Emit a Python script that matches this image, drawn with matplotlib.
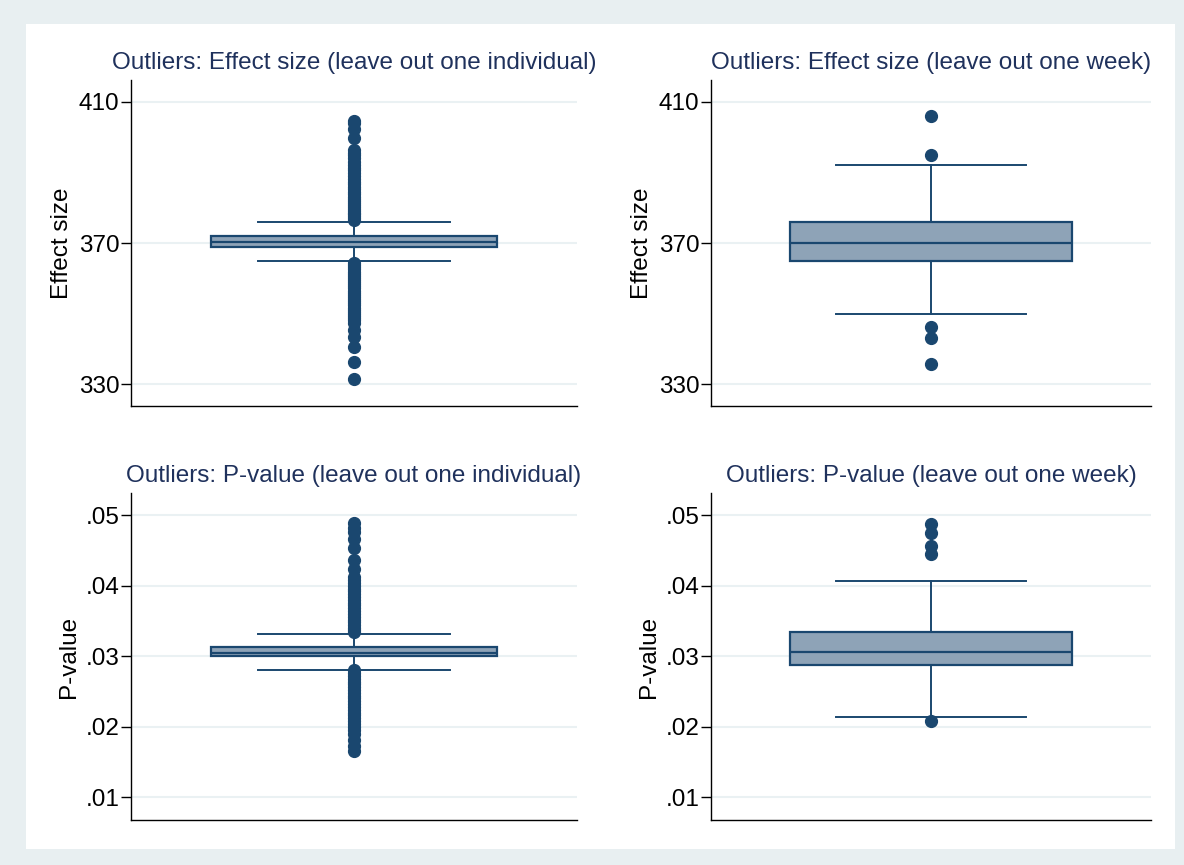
import matplotlib.pyplot as plt
import matplotlib.patches as mpatches

plt.rcParams['font.family'] = ['Liberation Sans', 'DejaVu Sans']

NAVY = '#1a476f'
BOX_FILL = '#8ea3b7'
GRID = '#eaf1f3'
BG = '#e8eff1'
TITLE_COL = '#1f315c'

# ---- effect size, leave out one individual ----
es_ind_q1, es_ind_med, es_ind_q3 = 368.95, 370.4, 372.0
es_ind_whislo, es_ind_whishi = 364.9, 376.0
es_ind_out = [404.6, 403.9, 402.3, 399.8, 396.4, 395.6, 395.0, 394.2, 393.0,
              392.2, 391.4, 390.6, 389.8, 389.0, 388.2, 387.4, 386.6, 385.9,
              385.2, 384.5, 383.8, 383.1, 382.5, 381.9, 381.3, 380.7, 380.1,
              379.6, 379.1, 378.6, 378.1, 377.6, 377.1, 376.6,
              364.3, 363.7, 363.1, 362.5, 361.9, 361.3, 360.7, 360.1, 359.5,
              358.9, 358.3, 357.7, 357.1, 356.5, 355.9, 355.3, 354.7, 354.1,
              353.5, 352.9, 352.3, 351.7, 351.1, 350.5, 349.9, 349.3, 348.7,
              348.2, 347.2, 345.3, 343.4, 340.6, 336.3, 331.3]

# ---- effect size, leave out one week ----
es_wk_q1, es_wk_med, es_wk_q3 = 364.9, 370.0, 376.0
es_wk_whislo, es_wk_whishi = 349.8, 392.0
es_wk_out = [406.0, 395.0, 346.1, 343.0, 335.7]

# ---- p-value, leave out one individual ----
pv_ind_q1, pv_ind_med, pv_ind_q3 = 0.0300, 0.0304, 0.0313
pv_ind_whislo, pv_ind_whishi = 0.0281, 0.0332
pv_ind_out = [0.0489, 0.0482, 0.0476, 0.0466, 0.0453, 0.0437, 0.0424, 0.0412,
              0.0408, 0.0404, 0.0400, 0.0396, 0.0392, 0.0388, 0.0384, 0.0380,
              0.0376, 0.0372, 0.0368, 0.0364, 0.0360, 0.0356, 0.0352, 0.0348,
              0.0344, 0.0340, 0.0337, 0.0334,
              0.0280, 0.0276, 0.0272, 0.0268, 0.0264, 0.0260, 0.0256, 0.0252,
              0.0248, 0.0244, 0.0240, 0.0236, 0.0232, 0.0228, 0.0224, 0.0220,
              0.0216, 0.0212, 0.0208, 0.0204, 0.0200, 0.0195, 0.0190, 0.0181,
              0.0172, 0.0166]

# ---- p-value, leave out one week ----
pv_wk_q1, pv_wk_med, pv_wk_q3 = 0.0287, 0.0306, 0.0334
pv_wk_whislo, pv_wk_whishi = 0.0213, 0.0407
pv_wk_out = [0.0487, 0.0475, 0.0457, 0.0445, 0.0208]

es_ticks = [330, 370, 410]
pv_ticks = [0.01, 0.02, 0.03, 0.04, 0.05]
pv_ticklabels = ['.01', '.02', '.03', '.04', '.05']

fig = plt.figure(figsize=(11.84, 8.65), dpi=100)
fig.patch.set_facecolor(BG)
fig.add_artist(mpatches.Rectangle((26 / 1184, 1 - 849 / 865), 1149 / 1184, 825 / 865,
                                  transform=fig.transFigure, facecolor='white',
                                  edgecolor='none', zorder=0))

panels = [
    # axes rect, box stats, title, ylabel, ylim, ticks, ticklabels
    ([131 / 1184, 1 - 406 / 865, 446 / 1184, 326 / 865],
     (es_ind_q1, es_ind_med, es_ind_q3, es_ind_whislo, es_ind_whishi, es_ind_out),
     'Outliers: Effect size (leave out one individual)', 'Effect size',
     (323.76, 416.24), es_ticks, [str(t) for t in es_ticks]),
    ([711 / 1184, 1 - 406 / 865, 440 / 1184, 326 / 865],
     (es_wk_q1, es_wk_med, es_wk_q3, es_wk_whislo, es_wk_whishi, es_wk_out),
     'Outliers: Effect size (leave out one week)', 'Effect size',
     (323.76, 416.24), es_ticks, [str(t) for t in es_ticks]),
    ([131 / 1184, 1 - 820 / 865, 446 / 1184, 327 / 865],
     (pv_ind_q1, pv_ind_med, pv_ind_q3, pv_ind_whislo, pv_ind_whishi, pv_ind_out),
     'Outliers: P-value (leave out one individual)', 'P-value',
     (0.00674, 0.05316), pv_ticks, pv_ticklabels),
    ([711 / 1184, 1 - 820 / 865, 440 / 1184, 327 / 865],
     (pv_wk_q1, pv_wk_med, pv_wk_q3, pv_wk_whislo, pv_wk_whishi, pv_wk_out),
     'Outliers: P-value (leave out one week)', 'P-value',
     (0.00674, 0.05316), pv_ticks, pv_ticklabels),
]

for rect, st, title, ylabel, ylim, ticks, ticklabels in panels:
    ax = fig.add_axes(rect)
    q1, med, q3, lo, hi, out = st
    stats = [dict(q1=q1, med=med, q3=q3, whislo=lo, whishi=hi, fliers=out)]
    ax.bxp(stats, positions=[0.5], widths=0.64, capwidths=0.43,
           patch_artist=True, showfliers=True,
           boxprops=dict(facecolor=BOX_FILL, edgecolor=NAVY, linewidth=1.6),
           medianprops=dict(color=NAVY, linewidth=1.6),
           whiskerprops=dict(color=NAVY, linewidth=1.4),
           capprops=dict(color=NAVY, linewidth=1.4),
           flierprops=dict(marker='o', markerfacecolor=NAVY, markeredgecolor=NAVY,
                           markersize=8.5, linestyle='none'))
    ax.set_xlim(0, 1)
    ax.set_ylim(*ylim)
    ax.set_yticks(ticks)
    ax.set_yticklabels(ticklabels)
    ax.set_xticks([])
    ax.grid(axis='y', color=GRID, linewidth=1.5, zorder=0)
    ax.set_axisbelow(True)
    for side in ('top', 'right'):
        ax.spines[side].set_visible(False)
    for side in ('left', 'bottom'):
        ax.spines[side].set_color('black')
        ax.spines[side].set_linewidth(1.0)
    ax.tick_params(axis='y', length=7, width=1.0, labelsize=17.5, pad=1.5, colors='black')
    ax.set_ylabel(ylabel, fontsize=17.5, labelpad=4)
    ax.set_title(title, fontsize=17.5, color=TITLE_COL, pad=8)

fig.savefig('out.png', dpi=100, facecolor=fig.get_facecolor())
